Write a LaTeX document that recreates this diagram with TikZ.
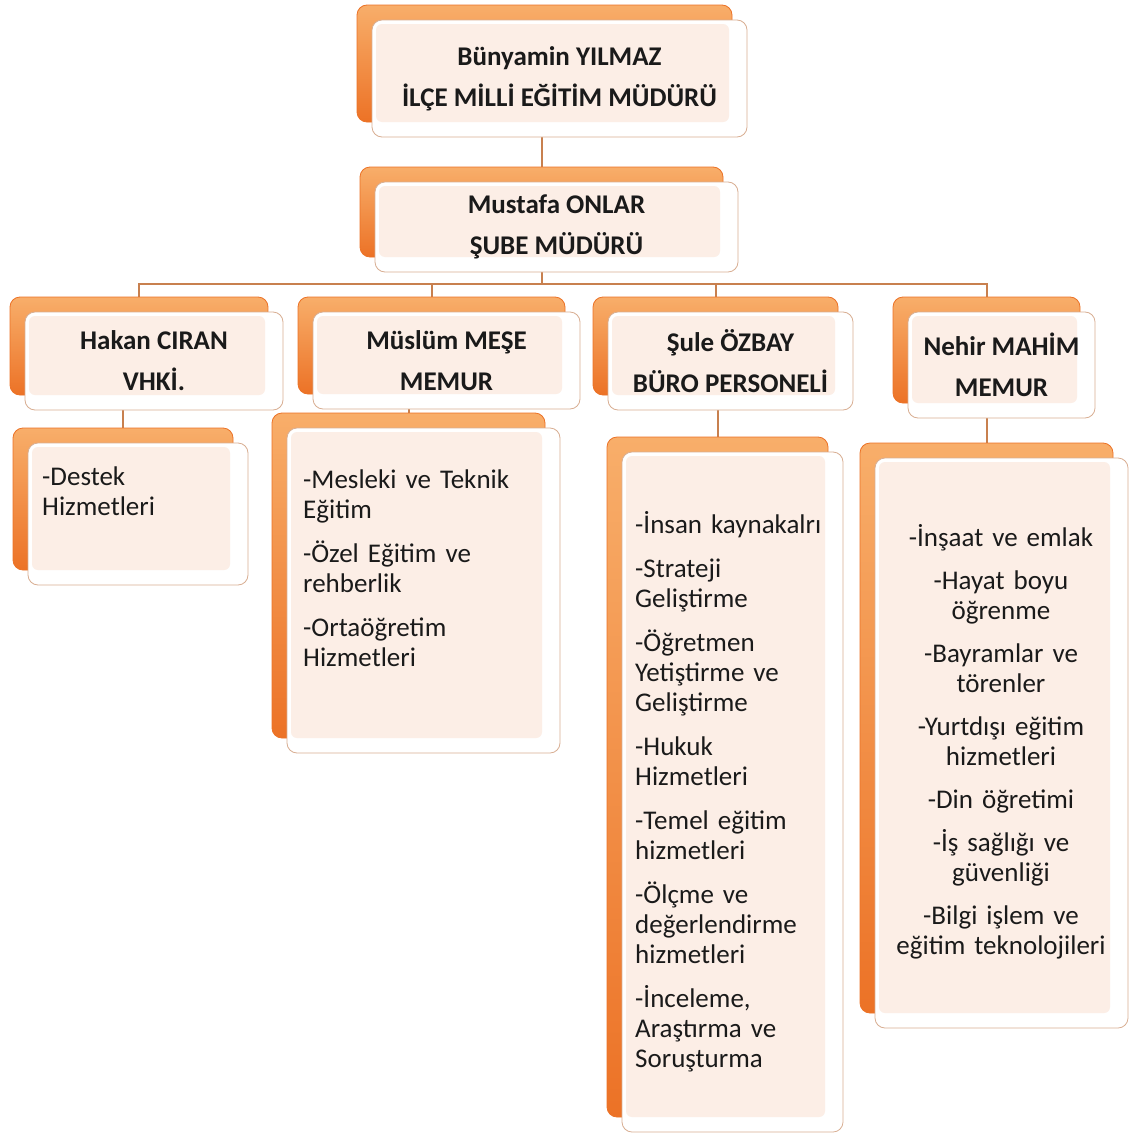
\documentclass[tikz,border=0pt]{standalone}
\usepackage{fontspec}
\setmainfont{Carlito}
\usetikzlibrary{backgrounds}

\definecolor{orgdark}{HTML}{EC7226}
\definecolor{orglight}{HTML}{F8AE6A}
\definecolor{cardfill}{HTML}{FCEEE6}
\definecolor{cardedge}{HTML}{D8AE92}
\definecolor{linkcol}{HTML}{C8804F}
\definecolor{ink}{HTML}{1A1A1A}

\begin{document}
\begin{tikzpicture}[x=1pt, y=-1pt,
        card/.style 2 args={minimum width=#1, minimum height=#2, inner sep=0pt,
            rounded corners=10pt, fill=white, draw=cardedge, line width=0.8pt,
            preaction={transform canvas={xshift=-15pt, yshift=15pt},
                top color=orglight, bottom color=orgdark, draw=orgdark},
            path picture={\fill[cardfill, rounded corners=6pt]
                ([shift={(4pt,-4pt)}]path picture bounding box.north west) rectangle
                ([shift={(-18pt,15pt)}]path picture bounding box.south east);}},
        title/.style={font=\fontsize{27}{41}\selectfont\bfseries, align=center, text=ink},
        duties/.style={font=\fontsize{27}{30}\selectfont, text=ink, inner sep=0pt,
            text width=240pt, align=left},
        link/.style={draw=linkcol, line width=2pt}]
    \useasboundingbox (0,0) rectangle (1131,1135);

    % Level 0
    \node[card={375pt}{117pt}, title] (chief) at (559.5,78.5) {Bünyamin YILMAZ\\İLÇE MİLLİ EĞİTİM MÜDÜRÜ};

    % Level 1
    \node[card={363pt}{90pt}, title] (deputy) at (556.5,227) {Mustafa ONLAR\\ŞUBE MÜDÜRÜ};

    % Level 2
    \node[card={258pt}{98pt}, title] (hakan) at (154,361) {Hakan CIRAN\\VHKİ.};
    \node[card={267pt}{97pt}, title] (muslum) at (446.5,360.5) {Müslüm MEŞE\\MEMUR};
    \node[card={245pt}{98pt}, title] (sule) at (730.5,361) {Şule ÖZBAY\\BÜRO PERSONELİ};
    \node[card={187pt}{106pt}, title] (nehir) at (1001.5,365) {Nehir MAHİM\\MEMUR};

    % Level 3
    \node[card={220pt}{142pt}] (desteklist) at (138,514) {};
    \node[card={273pt}{325pt}] (muslumlist) at (423.5,590.5) {};
    \node[card={221pt}{680pt}] (sulelist) at (732.5,792) {};
    \node[card={253pt}{570pt}] (nehirlist) at (1001.5,743) {};

    % Duties
    \node[duties, anchor=base west] (destektext) at (42,485) {-Destek\\Hizmetleri};
    \node[duties, anchor=base west] (muslumtext) at (303,488)
        {-Mesleki ve Teknik\\Eğitim\\[14pt]-Özel Eğitim ve\\rehberlik\\[14pt]-Ortaöğretim\\Hizmetleri};
    \node[duties, anchor=base west] (suletext) at (635,533)
        {-İnsan kaynakalrı\\[14pt]-Strateji\\Geliştirme\\[14pt]-Öğretmen\\Yetiştirme ve\\Geliştirme\\[14pt]-Hukuk\\Hizmetleri\\[14pt]-Temel eğitim\\hizmetleri\\[14pt]-Ölçme ve\\değerlendirme\\hizmetleri\\[14pt]-İnceleme,\\Araştırma ve\\Soruşturma};
    \node[duties, align=center, anchor=base] (nehirtext) at (1001,546)
        {-İnşaat ve emlak\\[13pt]-Hayat boyu\\öğrenme\\[13pt]-Bayramlar ve\\törenler\\[13pt]-Yurtdışı eğitim\\hizmetleri\\[13pt]-Din öğretimi\\[13pt]-İş sağlığı ve\\güvenliği\\[13pt]-Bilgi işlem ve\\eğitim teknolojileri};

    % Edges
    \begin{pgfonlayer}{background}
    \fill[white] (0,0) rectangle (1131,1135);
    \draw[link] ([xshift=-15pt]deputy.north) -- ([xshift=-15pt]deputy.north |- chief.south);
    \draw[link] ([xshift=-15pt]deputy.south) -- ++(0,12) coordinate (bus);
    \foreach \n in {hakan,muslum,sule,nehir}
        \draw[link] (bus) -| ([xshift=-15pt]\n.north);
    \foreach \a/\b in {hakan/desteklist,muslum/muslumlist,sule/sulelist,nehir/nehirlist}
        \draw[link] ([xshift=-15pt]\b.north) -- ([xshift=-15pt]\b.north |- \a.south);
    \end{pgfonlayer}
\end{tikzpicture}
\end{document}
